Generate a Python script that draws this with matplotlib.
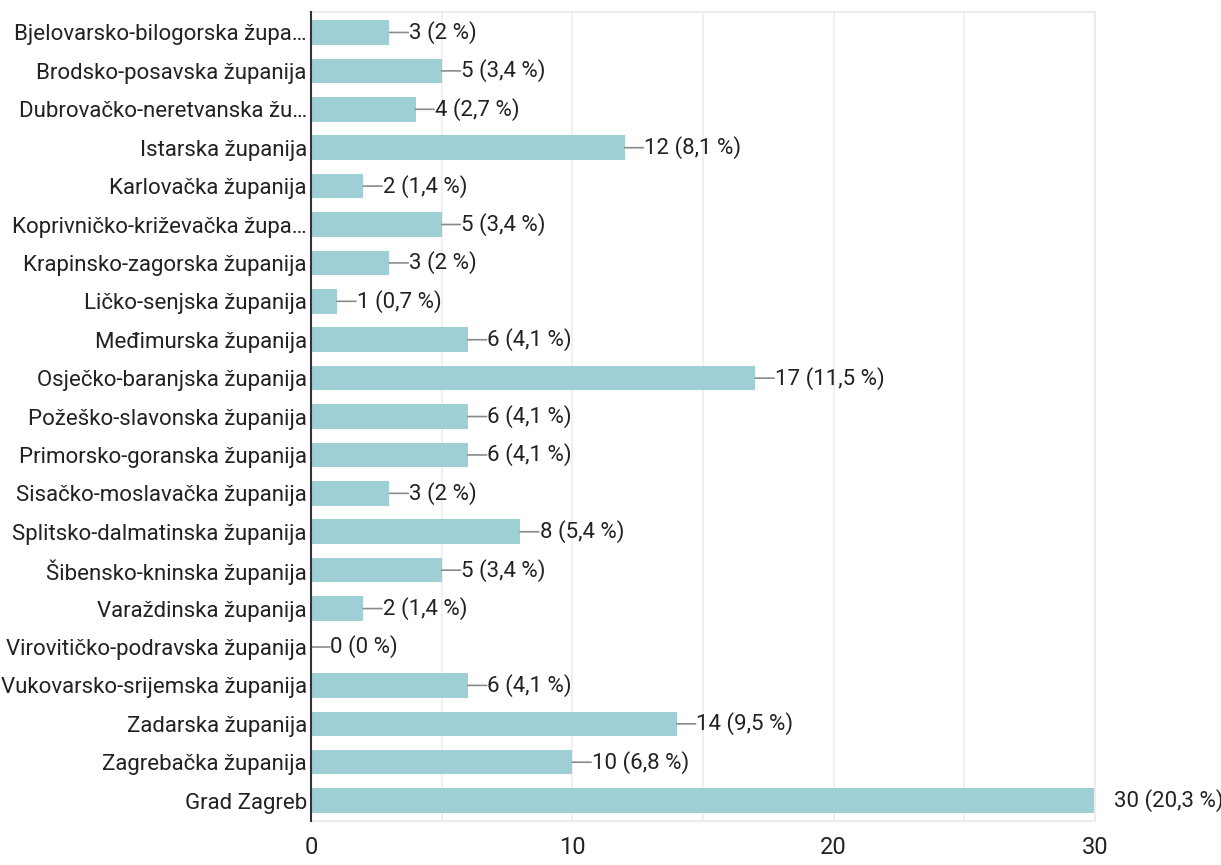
import matplotlib
matplotlib.use("Agg")
import matplotlib.pyplot as plt
from matplotlib import font_manager

# counties and answer counts (Google Forms summary)
counties = [
    "Bjelovarsko-bilogorska župa…",
    "Brodsko-posavska županija",
    "Dubrovačko-neretvanska žu…",
    "Istarska županija",
    "Karlovačka županija",
    "Koprivničko-križevačka župa…",
    "Krapinsko-zagorska županija",
    "Ličko-senjska županija",
    "Međimurska županija",
    "Osječko-baranjska županija",
    "Požeško-slavonska županija",
    "Primorsko-goranska županija",
    "Sisačko-moslavačka županija",
    "Splitsko-dalmatinska županija",
    "Šibensko-kninska županija",
    "Varaždinska županija",
    "Virovitičko-podravska županija",
    "Vukovarsko-srijemska županija",
    "Zadarska županija",
    "Zagrebačka županija",
    "Grad Zagreb",
]
counts = [3, 5, 4, 12, 2, 5, 3, 1, 6, 17, 6, 6, 3, 8, 5, 2, 0, 6, 14, 10, 30]
percents = ["2", "3,4", "2,7", "8,1", "1,4", "3,4", "2", "0,7", "4,1", "11,5",
            "4,1", "4,1", "2", "5,4", "3,4", "1,4", "0", "4,1", "9,5", "6,8", "20,3"]
xticks = [0, 10, 20, 30]

installed = {f.name for f in font_manager.fontManager.ttflist}
family = "Liberation Sans Narrow" if "Liberation Sans Narrow" in installed else "Roboto"
plt.rcParams["font.family"] = [family, "DejaVu Sans"]

fig = plt.figure(figsize=(12.21, 8.65), dpi=100)
ax = fig.add_axes([0.2547, 0.0509, 0.6421, 0.9351])

ypos = list(range(len(counties)))
ax.barh(ypos, counts, height=0.64, color="#9ecfd5", zorder=2)

for y, c, p in zip(ypos, counts, percents):
    # the last bar touches the frame, its connector is hidden there
    if c < 30:
        ax.annotate("", xy=(c, y), xytext=(c + 0.72, y),
                    arrowprops=dict(arrowstyle="-", color="#8a8a8a", lw=1.2,
                                    shrinkA=0, shrinkB=0),
                    annotation_clip=False, zorder=3)
    ax.annotate(f"{c} ({p} %)", xy=(c, y), xytext=(14, 0),
                textcoords="offset points", va="center", ha="left",
                fontsize=16, color="#222222", annotation_clip=False)

ax.set_ylim(len(counties) - 0.5 + 0.03, -0.5 - 0.03)
ax.set_xlim(0, 30)
ax.set_yticks(ypos)
ax.set_yticklabels(counties, fontsize=16, color="#222222")
ax.set_xticks(xticks)
ax.set_xticklabels([str(t) for t in xticks], fontsize=17, color="#222222")
ax.set_xticks([5, 15, 25], minor=True)
ax.tick_params(axis="both", which="both", length=0)
ax.tick_params(axis="x", pad=11)
ax.tick_params(axis="y", pad=3)

ax.grid(axis="x", which="both", color="#ececec", lw=1.2, zorder=0)
for side in ["top", "right", "bottom"]:
    ax.spines[side].set_color("#ececec")
    ax.spines[side].set_linewidth(1.5)
ax.spines["left"].set_color("#333333")
ax.spines["left"].set_linewidth(1.5)
ax.spines["left"].set_zorder(4)

fig.savefig("out.png", dpi=100)
